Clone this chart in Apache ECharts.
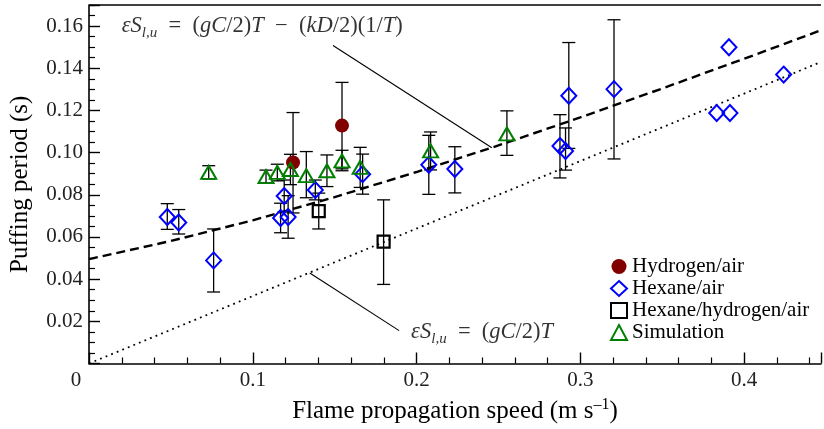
<!DOCTYPE html>
<html><head><meta charset="utf-8">
<script src="https://cdn.jsdelivr.net/npm/echarts@6/dist/echarts.min.js"></script>
<style>html,body{margin:0;padding:0;background:#fff}#c{width:824px;height:429px}</style>
</head><body><div id="c"></div>
<script>
// ---- data ----
const hydX  = [0.1246, 0.1545];
const hydY  = [0.0953, 0.1128];
const hydLo = [0.0714, 0.0923];
const hydHi = [0.1190, 0.1333];

const hexX  = [0.0478, 0.0548, 0.0761, 0.1170, 0.1216, 0.1192, 0.1382, 0.1671, 0.2075, 0.2234, 0.2876, 0.2910, 0.2930, 0.3206, 0.3833, 0.3908, 0.3914, 0.4242];
const hexY  = [0.0695, 0.0669, 0.0489, 0.0690, 0.0695, 0.0794, 0.0823, 0.0898, 0.0942, 0.0922, 0.1031, 0.1008, 0.1270, 0.1301, 0.1188, 0.1500, 0.1188, 0.1370];
const hexLo = [0.0636, 0.0614, 0.0339, 0.0620, 0.0594, 0.0720, 0.0776, 0.0803, 0.0802, 0.0809, 0.0880, 0.0917, 0.1020, 0.0970, null, null, null, null];
const hexHi = [0.0758, 0.0730, 0.0638, 0.0760, 0.0796, 0.0870, 0.0870, 0.0993, 0.1082, 0.1028, 0.1180, 0.1117, 0.1522, 0.1630, null, null, null, null];

const mixX  = [0.1403, 0.1799];
const mixY  = [0.0723, 0.0578];
const mixLo = [0.0638, 0.0375];
const mixHi = [0.0808, 0.0776];

const simX  = [0.0731, 0.1081, 0.1150, 0.1230, 0.1327, 0.1453, 0.1545, 0.1656, 0.2086, 0.2552];
const simY  = [0.0906, 0.0886, 0.0906, 0.0920, 0.0891, 0.0914, 0.0961, 0.0930, 0.1008, 0.1089];
const simLo = [0.0875, 0.0856, 0.0866, 0.0848, 0.0786, 0.0839, 0.0914, 0.0835, 0.0918, 0.0987];
const simHi = [0.0938, 0.0917, 0.0945, 0.0992, 0.1005, 0.0989, 0.1011, 0.1025, 0.1098, 0.1198];

// model curves
const dashX = [0, 0.05, 0.10, 0.15, 0.20, 0.25, 0.30, 0.35, 0.40, 0.447];
const dashY = [0.0495, 0.0581, 0.0679, 0.0789, 0.0908, 0.1034, 0.1167, 0.1304, 0.1445, 0.1580];
const dotX  = [0, 0.447];
const dotY  = [0, 0.143];

// leader lines for the annotations
const upLeadX = [0.149, 0.246];
const upLeadY = [0.1508, 0.1023];
const loLeadX = [0.1348, 0.1894];
const loLeadY = [0.0429, 0.0156];
const upTextAt = [0.020, 0.1598];
const loTextAt = [0.1967, 0.0148];

const xTickLabels = ['0', '0.1', '0.2', '0.3', '0.4'];
const yTickLabels = ['', '0.02', '0.04', '0.06', '0.08', '0.10', '0.12', '0.14', '0.16'];

const seriesNames = ['Hydrogen/air', 'Hexane/air', 'Hexane/hydrogen/air', 'Simulation'];

// ---- chart ----
const SERIF = 'Liberation Serif';
const zip = (a, b) => a.map((v, i) => [v, b[i]]);

function errSeries(xs, lo, hi) {
  const data = [];
  xs.forEach((x, i) => { if (lo[i] != null) data.push([x, lo[i], hi[i]]); });
  return {
    type: 'custom', silent: true, z: 2,
    encode: { x: 0, y: [1, 2] },
    data,
    renderItem: (params, api) => {
      const x = api.value(0);
      const p1 = api.coord([x, api.value(1)]);
      const p2 = api.coord([x, api.value(2)]);
      const w = 6.5;
      const st = { stroke: '#000', lineWidth: 1.3 };
      return {
        type: 'group', children: [
          { type: 'line', shape: { x1: p1[0], y1: p1[1], x2: p2[0], y2: p2[1] }, style: st },
          { type: 'line', shape: { x1: p1[0] - w, y1: p1[1], x2: p1[0] + w, y2: p1[1] }, style: st },
          { type: 'line', shape: { x1: p2[0] - w, y1: p2[1], x2: p2[0] + w, y2: p2[1] }, style: st }
        ]
      };
    }
  };
}

const MF = 22.5;
const mathRich = {
  i: { fontFamily: SERIF, fontStyle: 'italic', fontSize: MF, color: '#000' },
  r: { fontFamily: SERIF, fontSize: MF, color: '#000' },
  s: { fontFamily: SERIF, fontStyle: 'italic', fontSize: 15, color: '#000', padding: [13, 0, 0, 0] }
};

function textSeries(at, text) {
  return {
    type: 'scatter', silent: true, symbolSize: 0, z: 5,
    data: [at],
    label: { show: true, position: 'right', distance: 0, formatter: text, rich: mathRich,
      fontFamily: SERIF, fontSize: MF, color: '#000' },
    emphasis: { disabled: true }
  };
}

const chart = echarts.init(document.getElementById('c'), null, { renderer: 'canvas' });
chart.setOption({
  animation: false,
  backgroundColor: '#fff',
  textStyle: { fontFamily: SERIF },
  grid: { left: 88, right: 0, top: 5, bottom: 61, containLabel: false },
  legend: {
    data: seriesNames,
    orient: 'vertical', left: 605, top: 251, itemGap: 1,
    itemWidth: 16, itemHeight: 15,
    textStyle: { fontFamily: SERIF, fontSize: 21, color: '#000' }
  },
  xAxis: {
    type: 'value', min: 0, max: 0.447, interval: 0.1,
    name: 'Flame propagation speed (m s{sup|–1})',
    nameLocation: 'middle', nameGap: 33,
    nameTextStyle: { fontFamily: SERIF, fontSize: 25, color: '#000',
      rich: { sup: { fontFamily: SERIF, fontSize: 16, color: '#000', padding: [0, 0, 14, 0] } } },
    axisLine: { lineStyle: { color: '#000', width: 1.6 } },
    axisTick: { inside: true, length: 11, lineStyle: { color: '#000', width: 1.4 } },
    minorTick: { show: true, splitNumber: 5, length: 6, lineStyle: { color: '#000', width: 1.2 } },
    splitLine: { show: false },
    axisLabel: {
      margin: 6, fontFamily: SERIF, fontSize: 21, color: '#222',
      formatter: v => {
        const k = Math.round(v / 0.1);
        if (Math.abs(v - k * 0.1) > 1e-9 || k >= xTickLabels.length) return '';
        return k === 0 ? '{z|' + xTickLabels[0] + '}' : xTickLabels[k];
      },
      rich: { z: { fontFamily: SERIF, fontSize: 21, color: '#222', padding: [0, 26, 0, 0] } }
    }
  },
  yAxis: {
    type: 'value', min: 0, max: 0.17, interval: 0.02,
    name: 'Puffing period (s)',
    nameLocation: 'middle', nameGap: 56,
    nameTextStyle: { fontFamily: SERIF, fontSize: 25, color: '#000' },
    axisLine: { lineStyle: { color: '#000', width: 1.6 } },
    axisTick: { inside: true, length: 11, lineStyle: { color: '#000', width: 1.4 } },
    minorTick: { show: true, splitNumber: 4, length: 6, lineStyle: { color: '#000', width: 1.2 } },
    splitLine: { show: false },
    axisLabel: {
      margin: 6, fontFamily: SERIF, fontSize: 21, color: '#222',
      formatter: v => {
        const k = Math.round(v / 0.02);
        if (Math.abs(v - k * 0.02) > 1e-9 || k >= yTickLabels.length) return '';
        return yTickLabels[k];
      }
    }
  },
  series: [
    // top frame line
    { type: 'line', data: [], silent: true,
      markLine: { silent: true, symbol: 'none', label: { show: false },
        lineStyle: { color: '#000', width: 1.6, type: 'solid' }, data: [{ yAxis: 0.17 }] } },
    { type: 'line', data: zip(dashX, dashY), showSymbol: false, silent: true, z: 1,
      lineStyle: { color: '#000', width: 2.4, type: [9, 5] } },
    { type: 'line', data: zip(dotX, dotY), showSymbol: false, silent: true, z: 1,
      lineStyle: { color: '#000', width: 1.8, type: [1.8, 4.2] } },
    { type: 'line', data: zip(upLeadX, upLeadY), showSymbol: false, silent: true, z: 1,
      lineStyle: { color: '#000', width: 1.1 } },
    { type: 'line', data: zip(loLeadX, loLeadY), showSymbol: false, silent: true, z: 1,
      lineStyle: { color: '#000', width: 1.1 } },
    textSeries(upTextAt, '{i|εS}{s|l,u}{r|  =  (}{i|gC}{r|/2)}{i|T}{r|  −  (}{i|kD}{r|/2)(1/}{i|T}{r|)}'),
    textSeries(loTextAt, '{i|εS}{s|l,u}{r|  =  (}{i|gC}{r|/2)}{i|T}'),
    errSeries(hydX, hydLo, hydHi),
    errSeries(hexX, hexLo, hexHi),
    errSeries(mixX, mixLo, mixHi),
    errSeries(simX, simLo, simHi),
    { name: seriesNames[0], type: 'scatter', z: 4, data: zip(hydX, hydY),
      symbol: 'circle', symbolSize: 14, itemStyle: { color: '#800000', opacity: 1 } },
    { name: seriesNames[1], type: 'scatter', z: 4, data: zip(hexX, hexY),
      symbol: 'diamond', symbolSize: [15, 16],
      itemStyle: { color: 'rgba(0,0,0,0)', borderColor: '#0000ff', borderWidth: 2, opacity: 1 } },
    { name: seriesNames[2], type: 'scatter', z: 4, data: zip(mixX, mixY),
      symbol: 'rect', symbolSize: 12,
      itemStyle: { color: 'rgba(0,0,0,0)', borderColor: '#000', borderWidth: 2.2, opacity: 1 } },
    { name: seriesNames[3], type: 'scatter', z: 4, data: zip(simX, simY),
      symbol: 'triangle', symbolSize: [15, 13],
      itemStyle: { color: 'rgba(0,0,0,0)', borderColor: '#008000', borderWidth: 2, opacity: 1 } }
  ]
});
</script>
</body></html>
